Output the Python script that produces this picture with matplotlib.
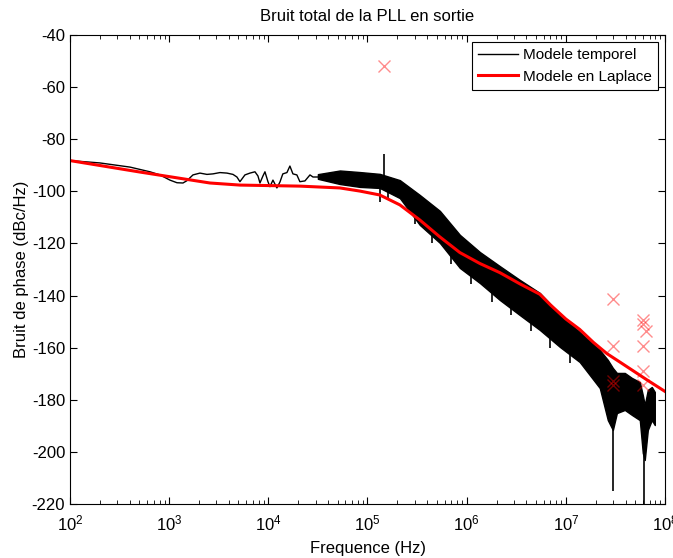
import numpy as np
import matplotlib
matplotlib.use('Agg')
import matplotlib.pyplot as plt

plt.rcParams['font.family'] = ['Liberation Sans', 'DejaVu Sans']
plt.rcParams['axes.unicode_minus'] = False
plt.rcParams['mathtext.fontset'] = 'custom'
plt.rcParams['mathtext.rm'] = 'Liberation Sans'
plt.rcParams['mathtext.it'] = 'Liberation Sans:italic'

# low frequency part of the time-domain model (single trace)
f_low = [100, 200, 403, 640, 807, 1019, 1199, 1378, 1512, 1738, 2044, 2404, 2765,
         3252, 3825, 4398, 4823, 5172, 5808, 6526, 7330, 7857, 8230, 8825, 9245,
         9913, 1.038e4, 1.113e4, 1.22e4, 1.31e4, 1.40e4, 1.54e4, 1.65e4, 1.77e4,
         1.94e4, 2.08e4, 2.34e4, 2.63e4, 2.82e4, 3.16e4]
n_low = [-88.2, -89.1, -90.7, -92.5, -93.7, -95.7, -96.7, -96.8, -95.9, -93.7, -93.0,
         -93.5, -93.3, -92.8, -93.0, -93.5, -94.5, -96.3, -93.7, -93.0, -92.5, -94.1,
         -96.8, -94.1, -92.5, -96.3, -98.2, -95.7, -98.7, -96.4, -93.3, -92.8, -90.3,
         -93.3, -93.7, -96.3, -96.0, -93.7, -94.5, -94.5]

# high frequency part: noisy band, upper / lower envelope
f_band = [3.16e4, 5.27e4, 8.38e4, 1.33e5, 2.12e5, 3.37e5, 5.37e5, 8.54e5, 1.36e6,
          2.16e6, 3.44e6, 5.47e6, 8.7e6, 1.38e7, 2.2e7, 2.65e7, 2.98e7, 3.27e7,
          3.93e7, 4.63e7, 5.57e7, 5.97e7, 6.25e7, 6.71e7, 7.36e7, 7.89e7]
band_top = [-93.4, -92.0, -92.6, -93.3, -95.7, -101.4, -107.5, -116.7, -123.3, -128.7,
            -134.0, -139.0, -147.1, -154.0, -160.9, -164.7, -167.8, -169.7, -169.7,
            -171.6, -173.2, -178.2, -182.0, -176.2, -175.1, -177.0]
band_bot = [-95.2, -97.2, -98.3, -98.7, -102.6, -112.9, -119.8, -129.4, -135.2, -141.7,
            -147.5, -153.2, -159.7, -165.5, -175.5, -187.8, -191.6, -185.1, -183.9,
            -185.8, -187.8, -200.4, -203.1, -191.6, -187.8, -189.7]

# isolated spikes of the time-domain trace
spike_f = [1.45e5, 1.33e5, 1.6e5, 3.0e5, 4.5e5, 7.0e5, 1.1e6, 1.8e6, 2.8e6, 4.5e6,
           7.0e6, 1.1e7, 2.98e7, 6.2e7]
spike_lo = [-96.0, -104.0, -103.0, -112.5, -120.0, -128.0, -135.5, -142.5, -147.5,
            -153.5, -160.0, -166.0, -215.0, -225.0]
spike_hi = [-85.5, -97.0, -97.0, -105.0, -112.0, -120.0, -127.0, -134.0, -140.0,
            -146.0, -152.0, -157.0, -180.0, -190.0]

# Laplace model
f_lap = [100, 508, 2577, 5172, 2.08e4, 5.27e4, 8.38e4, 1.33e5, 2.12e5, 3.37e5, 5.37e5,
         8.54e5, 1.36e6, 2.16e6, 3.44e6, 5.47e6, 7.0e6, 1.0e7, 1.38e7, 1.9e7, 2.6e7,
         3.5e7, 6.6e7, 1e8]
n_lap = [-88.2, -92.6, -96.8, -97.6, -98.0, -98.7, -99.9, -101.4, -105.2, -111.0,
         -117.5, -123.5, -127.7, -131.2, -135.5, -139.5, -143.6, -149.0, -153.0, -158.0,
         -162.3, -165.5, -172.4, -176.8]

# spur markers
spur_f = [1.45e5, 3.0e7, 3.0e7, 3.0e7, 3.0e7, 6.0e7, 6.05e7, 6.5e7, 6.0e7, 6.0e7, 6.0e7]
spur_n = [-51.8, -141.5, -159.5, -172.8, -174.3, -149.5, -151.0, -153.5, -159.5,
          -169.0, -174.5]

fig = plt.figure(figsize=(6.73, 5.58), dpi=100)
ax = fig.add_axes([70 / 673, 1 - 504 / 558, 595 / 673, 469 / 558])

ax.plot(f_low, n_low, color='black', lw=1.0, label='Modele temporel')
ax.fill_between(f_band, band_bot, band_top, color='black', lw=1.0, edgecolor='black')
ax.vlines(spike_f, spike_lo, spike_hi, color='black', lw=1.2)
ax.plot(f_lap, n_lap, color='red', lw=2.2, label='Modele en Laplace')
ax.plot(spur_f, spur_n, 'x', color='red', alpha=0.45, ms=9, mew=1.0)

ax.set_xscale('log')
ax.set_xlim(1e2, 1e8)
ax.set_ylim(-220, -40)
ax.set_yticks(np.arange(-220, -39, 20))

ax.tick_params(which='both', direction='in', top=True, right=True, labelsize=12)
ax.tick_params(which='major', length=5)
ax.tick_params(which='minor', length=3)
ax.tick_params(axis='x', which='major', pad=7)

ax.set_title('Bruit total de la PLL en sortie', fontsize=12, pad=10)
ax.set_xlabel('Frequence (Hz)', fontsize=12, labelpad=5)
ax.set_ylabel('Bruit de phase (dBc/Hz)', fontsize=12, labelpad=2)

leg = ax.legend(loc='upper right', fontsize=11, fancybox=False, framealpha=1,
                edgecolor='black', borderaxespad=0.45, handlelength=2.6,
                handletextpad=0.35, labelspacing=0.5)
leg.get_frame().set_linewidth(0.8)

fig.savefig('out.png', dpi=100)
